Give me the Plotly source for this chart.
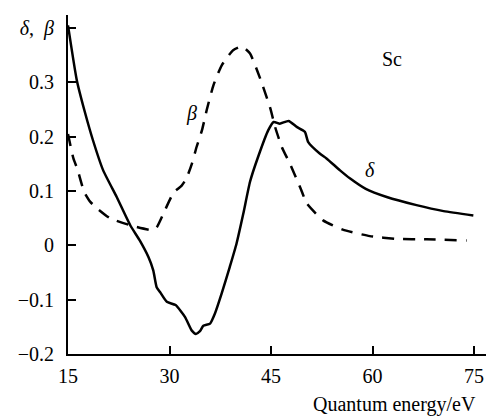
import plotly.graph_objects as go

# delta (solid)
delta_E = [15.0, 16.3, 17.5, 18.7, 20.2, 22.2, 24.2, 25.6, 26.9, 27.6, 28.1, 28.6, 29.6, 30.9,
           32.3, 33.3, 33.9, 34.5, 35.0, 36.0, 36.7, 37.7, 38.9, 39.9, 40.9, 41.9, 43.1, 44.6,
           45.4, 46.3, 47.6, 48.8, 50.0, 50.5, 52.2, 53.2, 55.2, 56.7, 59.0, 62.1, 66.5, 70.5, 74.9]
delta_v = [0.405, 0.304, 0.245, 0.193, 0.138, 0.089, 0.037, 0.009, -0.022, -0.046, -0.077, -0.086,
           -0.104, -0.110, -0.132, -0.157, -0.163, -0.158, -0.148, -0.144, -0.126, -0.089, -0.040,
           0.003, 0.058, 0.117, 0.163, 0.212, 0.227, 0.224, 0.229, 0.218, 0.209, 0.190, 0.169,
           0.160, 0.138, 0.123, 0.104, 0.089, 0.074, 0.063, 0.055]

# beta (dashed)
beta_E = [15.0, 15.8, 16.4, 17.4, 18.3, 19.5, 21.2, 24.2, 27.5, 28.1, 29.3, 30.6, 31.8, 32.5,
          33.3, 34.0, 34.8, 35.5, 36.5, 37.7, 39.4, 40.7, 41.9, 43.4, 44.9, 45.6, 46.6, 47.8,
          49.3, 50.3, 52.7, 55.6, 59.6, 63.6, 68.0, 73.9]
beta_v = [0.205, 0.160, 0.140, 0.098, 0.080, 0.066, 0.050, 0.037, 0.028, 0.033, 0.064, 0.097,
          0.110, 0.123, 0.150, 0.181, 0.212, 0.249, 0.295, 0.331, 0.359, 0.366, 0.353, 0.307,
          0.252, 0.218, 0.181, 0.150, 0.107, 0.077, 0.046, 0.029, 0.017, 0.012, 0.011, 0.009]

x_ticks = [15, 30, 45, 60, 75]
y_ticks = [-0.2, -0.1, 0, 0.1, 0.2, 0.3, 0.4]
y_ticktext = ["\u22120.2", "\u22120.1", "0", "0.1", "0.2", "0.3", "<i>δ</i>,  <i>β</i>"]

FONT = "Liberation Serif"
FS = 20

fig = go.Figure()
fig.add_trace(go.Scatter(x=delta_E, y=delta_v, mode="lines",
                         line=dict(color="black", width=2.5, shape="spline", smoothing=0.5),
                         showlegend=False))
fig.add_trace(go.Scatter(x=beta_E, y=beta_v, mode="lines",
                         line=dict(color="black", width=2.5, dash="12px,9px", shape="spline", smoothing=0.5),
                         showlegend=False))

fig.add_annotation(x=33.28, y=0.243, text="<i>β</i>", showarrow=False,
                   font=dict(family=FONT, size=FS, color="black"))
fig.add_annotation(x=59.6, y=0.138, text="<i>δ</i>", showarrow=False,
                   font=dict(family=FONT, size=FS, color="black"))
fig.add_annotation(x=62.9, y=0.343, text="Sc", showarrow=False,
                   font=dict(family=FONT, size=FS, color="black"))
fig.add_annotation(xref="paper", yref="paper", x=(478 - 68) / 418, y=-(404 - 354) / 339,
                   xanchor="right", yanchor="middle", text="Quantum energy/eV", showarrow=False,
                   font=dict(family=FONT, size=FS, color="black"))

fig.update_xaxes(range=[15, 15 + 418 / 6.767], tickvals=x_ticks, ticks="inside", ticklen=8,
                 tickwidth=2, tickcolor="black", showline=True, linewidth=2, linecolor="black",
                 showgrid=False, zeroline=False, ticklabelstandoff=3,
                 tickfont=dict(family=FONT, size=FS, color="black"))
fig.update_yaxes(range=[-0.2, 0.424], tickvals=y_ticks, ticktext=y_ticktext, ticks="inside",
                 ticklen=8, tickwidth=2, tickcolor="black", showline=True, linewidth=2,
                 linecolor="black", showgrid=False, zeroline=False, ticklabelstandoff=8,
                 tickfont=dict(family=FONT, size=FS, color="black"))

fig.update_layout(width=486, height=417, margin=dict(l=68, r=0, t=15, b=63),
                  plot_bgcolor="white", paper_bgcolor="white",
                  font=dict(family=FONT, size=FS, color="black"))

fig.write_html("out.html")
